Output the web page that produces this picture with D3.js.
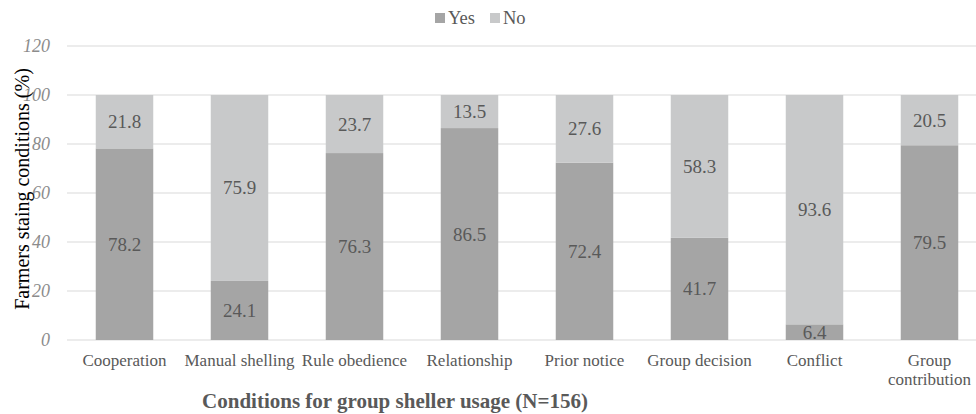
<!DOCTYPE html>
<html>
<head>
<meta charset="utf-8">
<script src="https://cdn.jsdelivr.net/npm/d3@7"></script>
<style>
  body { margin: 0; background: #fff; }
  svg text { font-family: "Liberation Serif", "Times New Roman", serif !important; }
</style>
</head>
<body>
<script>
// conditions on the x axis
const categories = ["Cooperation", "Manual shelling", "Rule obedience", "Relationship",
  "Prior notice", "Group decision", "Conflict", "Group contribution"];
const yesValues = [78.2, 24.1, 76.3, 86.5, 72.4, 41.7, 6.4, 79.5];
const noValues = [21.8, 75.9, 23.7, 13.5, 27.6, 58.3, 93.6, 20.5];
const yTicks = [0, 20, 40, 60, 80, 100, 120];
const seriesNames = ["Yes", "No"];
const colors = { Yes: "#a5a5a5", No: "#c8c9ca" };

const W = 976, H = 414;
const svg = d3.select("body").append("svg").attr("width", W).attr("height", H);

const x = d3.scaleBand().domain(categories).range([67, 987]).paddingInner(0.5).paddingOuter(0.25);
const y = d3.scaleLinear().domain([0, 120]).range([340, 46]);

// gridlines
svg.append("g").selectAll("line").data(yTicks).join("line")
  .attr("x1", 67).attr("x2", W)
  .attr("y1", d => y(d)).attr("y2", d => y(d))
  .attr("stroke", "#d9d9d9").attr("stroke-width", 1);

// y tick labels
const yAxis = svg.append("g").attr("transform", "translate(50,0)")
  .call(d3.axisLeft(y).tickValues(yTicks).tickSize(0).tickPadding(0));
yAxis.select(".domain").remove();
yAxis.selectAll("text")
  .attr("font-style", "italic")
  .attr("font-size", 18)
  .attr("fill", "#8c8c8c");

const rows = categories.map((c, i) => ({ cat: c, Yes: yesValues[i], No: noValues[i] }));
const stacked = d3.stack().keys(seriesNames)(rows);

const layers = svg.append("g").selectAll("g").data(stacked).join("g")
  .attr("fill", d => colors[d.key]);

layers.selectAll("rect").data(d => d).join("rect")
  .attr("x", d => x(d.data.cat))
  .attr("width", x.bandwidth())
  .attr("y", d => y(d[1]))
  .attr("height", d => y(d[0]) - y(d[1]));

// value labels
layers.selectAll("text").data(d => d.map(v => ({ v, key: d.key }))).join("text")
  .attr("x", d => x(d.v.data.cat) + x.bandwidth() / 2)
  .attr("y", d => (y(d.v[0]) + y(d.v[1])) / 2 + 6.5)
  .attr("text-anchor", "middle")
  .attr("font-size", 19)
  .attr("fill", "#595959")
  .text(d => d.v.data[d.key].toFixed(1));

// x labels
const xl = svg.append("g").selectAll("text").data(categories).join("text")
  .attr("x", d => x(d) + x.bandwidth() / 2)
  .attr("y", 366)
  .attr("text-anchor", "middle")
  .attr("font-size", 17)
  .attr("fill", "#595959");
xl.each(function(d) {
  const t = d3.select(this);
  if (d === "Group contribution") {
    t.append("tspan").attr("x", x(d) + x.bandwidth() / 2).attr("dy", 0).text("Group");
    t.append("tspan").attr("x", x(d) + x.bandwidth() / 2).attr("dy", 19).text("contribution");
  } else {
    t.text(d);
  }
});

// axis titles
svg.append("text")
  .attr("x", 395).attr("y", 408)
  .attr("text-anchor", "middle")
  .attr("font-size", 21).attr("font-weight", "bold")
  .attr("fill", "#595959")
  .text("Conditions for group sheller usage (N=156)");

svg.append("text")
  .attr("transform", "translate(29,189) rotate(-90)")
  .attr("text-anchor", "middle")
  .attr("font-size", 20)
  .attr("fill", "#000")
  .text("Farmers staing conditions (%)");

// legend
const legend = svg.append("g");
const legX = [435, 490];
seriesNames.forEach((s, i) => {
  legend.append("rect").attr("x", legX[i]).attr("y", 13).attr("width", 10).attr("height", 10)
    .attr("fill", colors[s]);
  legend.append("text").attr("x", legX[i] + 13).attr("y", 24)
    .attr("font-size", 18.5).attr("fill", "#595959").text(s);
});
</script>
</body>
</html>
